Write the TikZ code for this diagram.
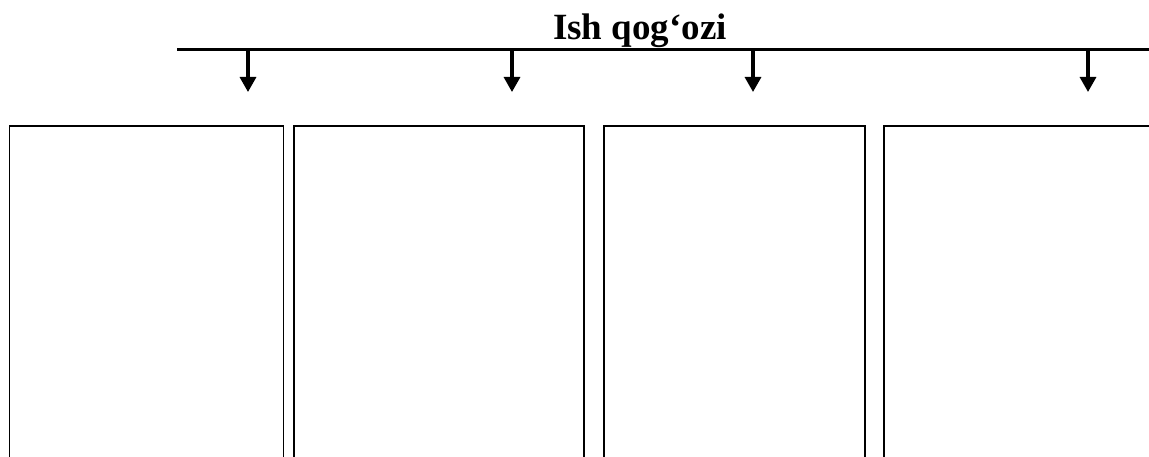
\documentclass[tikz,border=0pt]{standalone}
\usepackage{fontspec}
\setmainfont{Liberation Serif}
\usetikzlibrary{arrows.meta}
\begin{document}
\begin{tikzpicture}[x=1pt,y=-1pt,
  panel/.style={draw=black,line width=1.6pt,rectangle,inner sep=0pt,anchor=north west},
  bar/.style={line width=3.2pt},
  drop/.style={line width=3.2pt,-{Triangle[width=16pt,length=15pt]}},
  title/.style={font=\fontsize{37}{40}\selectfont\bfseries,anchor=base,inner sep=0pt}]
\useasboundingbox (0,0) rectangle (1149,457);
\clip (0,0) rectangle (1149,457);
% boxes
\node[panel,minimum width=274pt,minimum height=360pt] (b1) at (8.5,125) {};
\node[panel,minimum width=290pt,minimum height=360pt] (b2) at (293,125) {};
\node[panel,minimum width=261pt,minimum height=360pt] (b3) at (603,125) {};
\node[panel,minimum width=300pt,minimum height=360pt] (b4) at (883,125) {};
% bar
\coordinate (barL) at (177,49.5);
\coordinate (barR) at (1160,49.5);
\draw[bar] (barL) -- (barR);
\node[title] (t) at (640,40) {Ish qog‘ozi};
% arrows
\foreach \x/\n in {248/1,512/2,753/3,1088/4}{
  \coordinate (s\n) at (\x,49.5);
  \coordinate (e\n) at (\x,92);
  \draw[drop] (s\n) -- (e\n);
}
\end{tikzpicture}
\end{document}
